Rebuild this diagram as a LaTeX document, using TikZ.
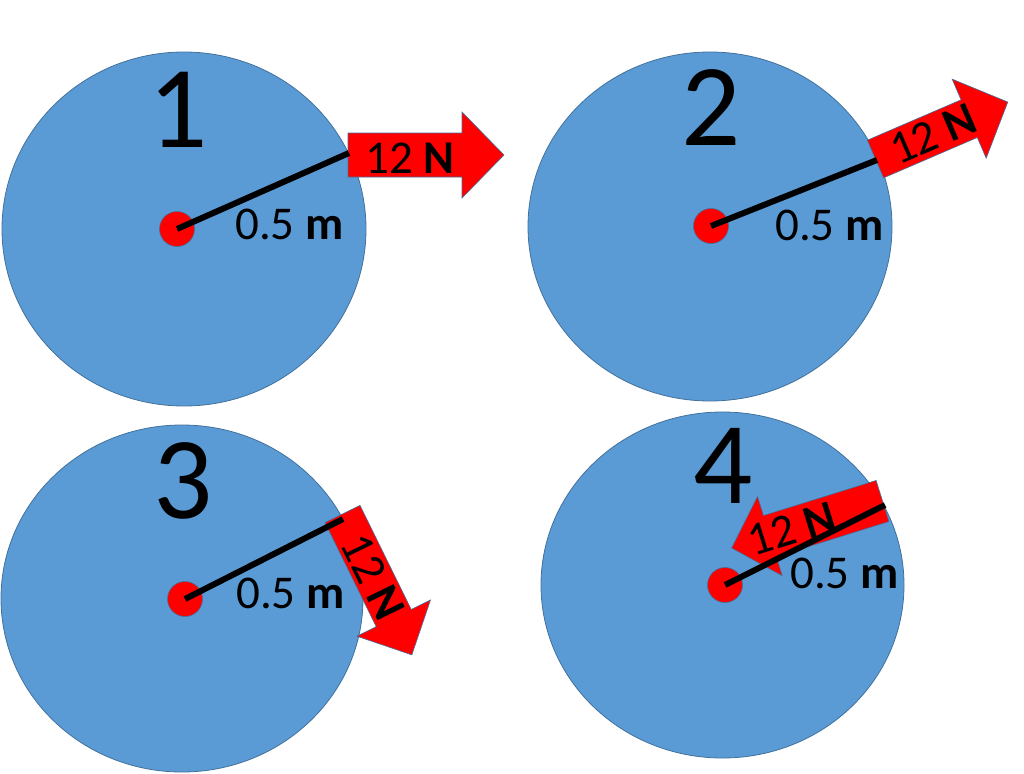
\documentclass[tikz,border=0pt]{standalone}
\usepackage{fontspec}
\setmainfont{Carlito}
\usetikzlibrary{shapes.geometric}
\definecolor{wheelblue}{HTML}{5B9BD5}
\definecolor{edgeblue}{HTML}{41719C}
\definecolor{forcered}{HTML}{FF0000}
\tikzset{
  wheel/.style={ellipse, draw=edgeblue, line width=0.8pt, fill=wheelblue, inner sep=0pt},
  pivot/.style={circle, draw=edgeblue, line width=0.6pt, fill=forcered, minimum size=35pt, inner sep=0pt},
  radiusline/.style={line width=6pt, black},
  bignum/.style={font=\fontsize{117}{117}\selectfont, inner sep=0pt, anchor=base},
  dist/.style={font=\fontsize{47}{47}\selectfont, inner sep=0pt, anchor=base west},
  flabel/.style={font=\fontsize{47}{47}\selectfont, inner sep=0pt},
  forcearrow/.style={draw=edgeblue, line width=0.6pt, fill=forcered, line join=miter},
}
% #1 tail coordinate, #2 angle, #3 length, #4 half body width, #5 half head width, #6 head length
\newcommand\forceshape[6]{%
  \begin{scope}[shift={(#1)}, rotate=#2]
    \path[forcearrow] (0,-#4) -- ({#3-#6},-#4) -- ({#3-#6},-#5) -- (#3,0)
      -- ({#3-#6},#5) -- ({#3-#6},#4) -- (0,#4) -- cycle;
  \end{scope}}
\begin{document}
\begin{tikzpicture}[x=1pt, y=-1pt]
\fill[white] (0,0) rectangle (1024,773);
\useasboundingbox (0,0) rectangle (1024,773);

% wheels
\node[wheel, minimum width=364pt, minimum height=354pt] (c1) at (184,229) {};
\node[wheel, minimum width=364pt, minimum height=349pt] (c2) at (710,226.5) {};
\node[wheel, minimum width=362pt, minimum height=347pt] (c3) at (182,598.5) {};
\node[wheel, minimum width=363pt, minimum height=346pt] (c4) at (722.5,585) {};

% pivots
\node[pivot] (p1) at (177,229) {};
\node[pivot] (p2) at (711,226) {};
\node[pivot] (p3) at (185,599) {};
\node[pivot] (p4) at (725,585) {};

% arrow tails and radius ends
\coordinate (t1) at (348,155);
\coordinate (t2) at (875.5,159);
\coordinate (t3) at (342.5,514);
\coordinate (t4) at (882.5,501);
\coordinate (e1) at (349,153);
\coordinate (e2) at (877,160);
\coordinate (e3) at (343,519);
\coordinate (e4) at (885,505);

% force arrows
\forceshape{t1}{0}{156}{22}{43}{42}
\forceshape{t2}{23.3}{144}{20.5}{43}{42}
\forceshape{t3}{-63.8}{157}{19.5}{41}{41}
\forceshape{t4}{197.3}{158}{21.5}{41.5}{40}

% radius lines
\draw[radiusline] (p1.center) -- (e1);
\draw[radiusline] (p2.center) -- (e2);
\draw[radiusline] (p3.center) -- (e3);
\draw[radiusline] (p4.center) -- (e4);

% numbers
\node[bignum] (n1) at (178,147) {1};
\node[bignum] (n2) at (711,145) {2};
\node[bignum] (n3) at (183,518) {3};
\node[bignum] (n4) at (723,503) {4};

% distances
\node[dist] (d1) at (235,239) {0.5 \textbf{m}};
\node[dist] (d2) at (775,240) {0.5 \textbf{m}};
\node[dist] (d3) at (236,608) {0.5 \textbf{m}};
\node[dist] (d4) at (790,588) {0.5 \textbf{m}};

% force labels
\node[flabel] (f1) at (410,158) {12 \textbf{N}};
\node[flabel, rotate=23.3] (f2) at (933,134) {12 \textbf{N}};
\node[flabel, rotate=-63.8] (f3) at (373,577) {12 \textbf{N}};
\node[flabel, rotate=17.3] (f4) at (792,529) {12 \textbf{N}};
\end{tikzpicture}
\end{document}
